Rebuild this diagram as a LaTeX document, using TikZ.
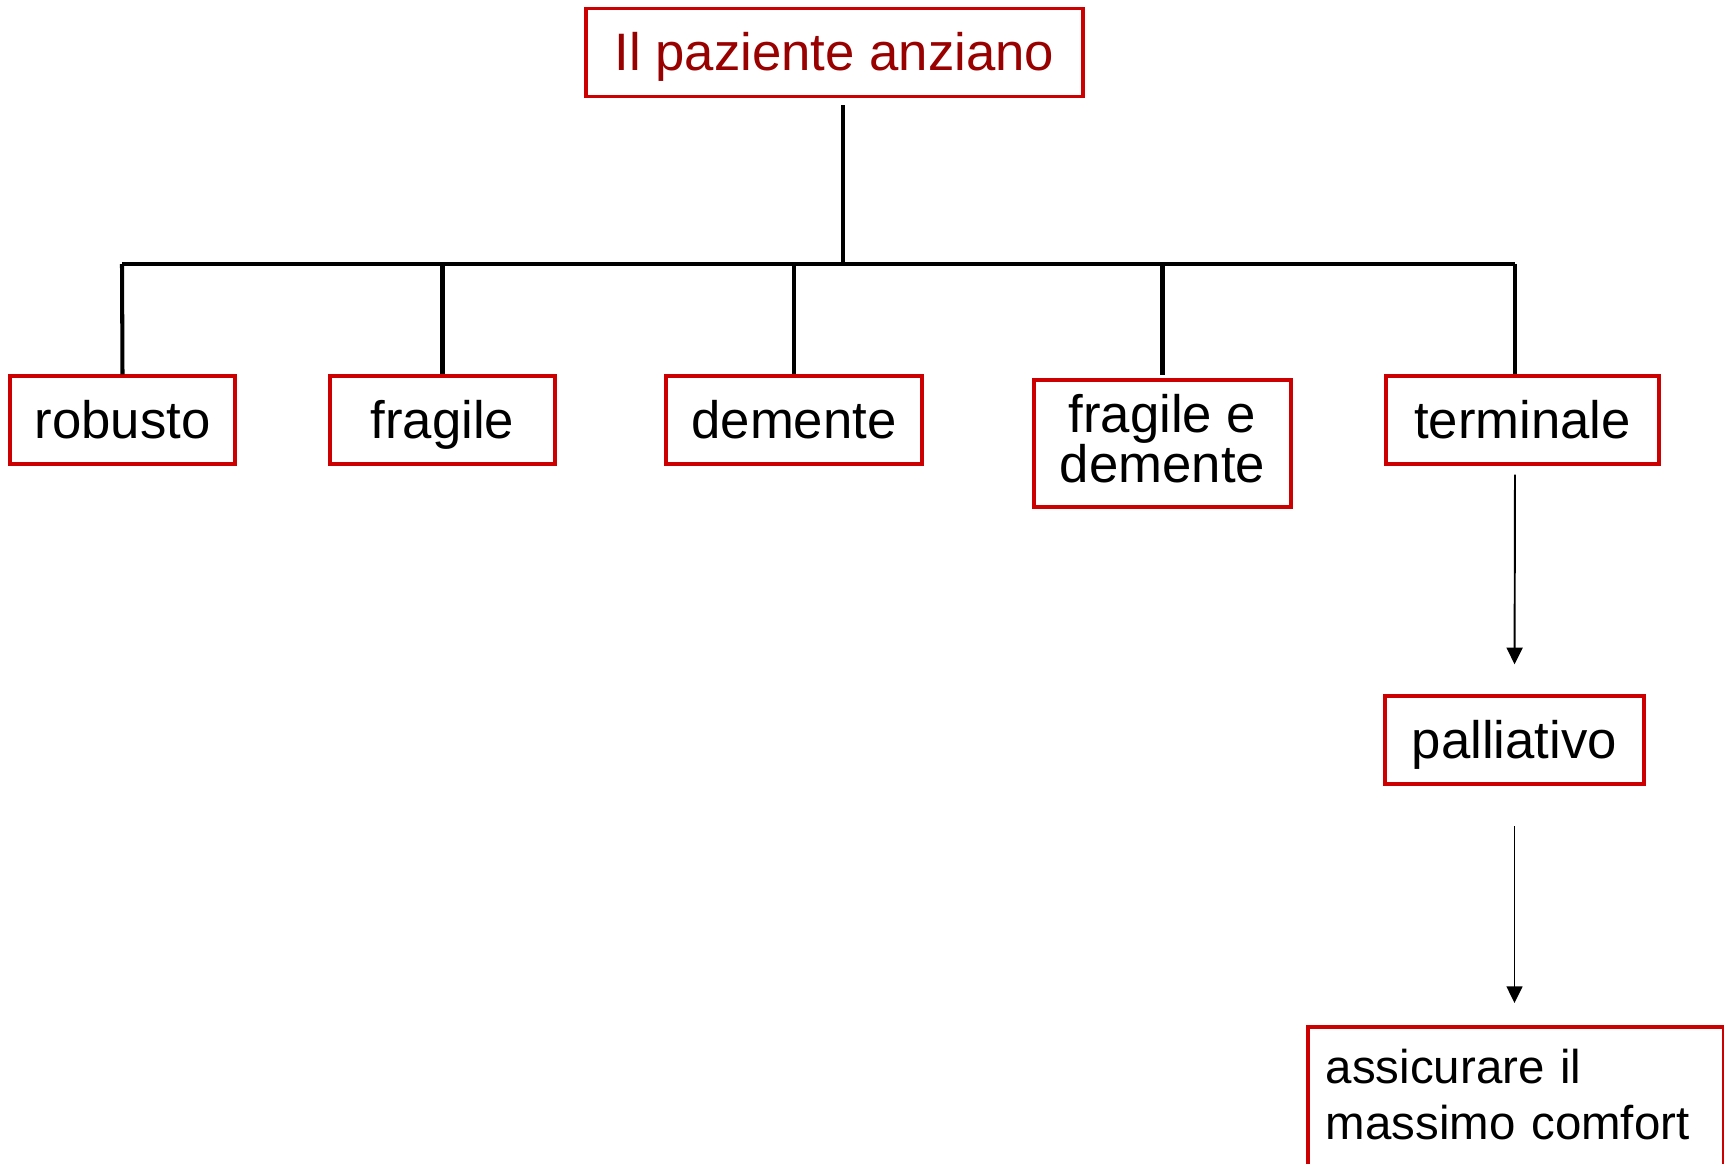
\documentclass[tikz,border=0pt]{standalone}
\usepackage{fontspec}
\setmainfont{Liberation Sans}
\usepackage{xcolor}
\usetikzlibrary{arrows.meta}
\definecolor{boxred}{HTML}{CC0000}
\definecolor{titlered}{HTML}{990000}
\tikzset{
	box/.style={draw=boxred, line width=2pt, inner sep=0pt, minimum height=1.76cm,
		font=\fontsize{30}{28.5}\selectfont, align=center},
	onebox/.style={box, text height=22pt, text depth=1pt},
	branch/.style={line width=2.3pt},
	arrow/.style={line width=1.1pt, -{Triangle[length=9.5pt,width=9pt]}}
}

\begin{document}
\begin{tikzpicture}[x=0.02cm, y=-0.02cm]
	\useasboundingbox (0,0) rectangle (1724,1163);

	\node[onebox, minimum width=9.94cm, text=titlered, text height=24pt, text depth=4pt] (top) at (834.5,52.5) {Il paziente anziano};%root

	\node[onebox, minimum width=4.5cm] (robusto) at (122.5,420) {robusto};
	\node[onebox, minimum width=4.5cm] (fragile) at (442.5,420) {fragile};
	\node[onebox, minimum width=5.12cm] (demente) at (794,420) {demente};
	\node[box, minimum width=5.14cm, minimum height=2.54cm, text depth=6pt] (fragdem) at (1162.5,443.5) {fragile e\\demente};
	\node[onebox, minimum width=5.46cm] (terminale) at (1522.5,420) {terminale};
	\node[onebox, minimum width=5.18cm] (palliativo) at (1514.5,740) {palliativo};
	\node[box, anchor=north west, text width=7.6cm, inner xsep=0.36cm, inner ysep=0.44cm,
		minimum height=0pt, text depth=40pt, align=left, font=\fontsize{27}{32}\selectfont] (comfort) at (1306,1025)
		{assicurare il\\massimo comfort};

	\coordinate (hub) at (843,264);
	\coordinate (barL) at (122,264);
	\coordinate (barR) at (1515,264);

	\draw[branch, shorten <=4pt] (top.south -| hub) -- (hub);%trunk
	\draw[branch] (barL) -- (barR);%bar
	\draw[branch] (barL) -- (robusto.north);
	\draw[branch] (fragile.north |- hub) -- (fragile.north);
	\draw[branch] (demente.north |- hub) -- (demente.north);
	\draw[branch] (fragdem.north |- hub) -- ([yshift=2pt]fragdem.north);
	\draw[branch] (barR) -- (barR |- terminale.north);

	\draw[arrow, shorten <=5pt, shorten >=17pt] (barR |- terminale.south) -- (palliativo.north);
	\draw[arrow, shorten <=23pt, shorten >=12.5pt] (palliativo.south) -- (palliativo.south |- comfort.north);
\end{tikzpicture}
\end{document}
